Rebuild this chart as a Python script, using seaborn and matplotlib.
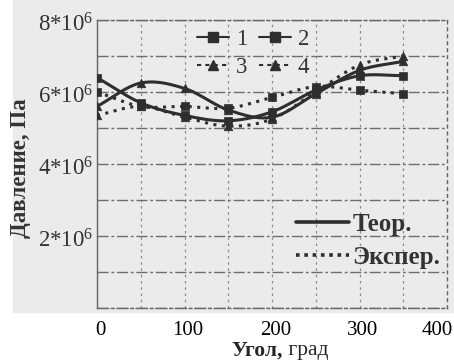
import numpy as np
import pandas as pd
import seaborn as sns
import matplotlib
matplotlib.use("Agg")
import matplotlib.pyplot as plt
from matplotlib.lines import Line2D
from matplotlib.patches import Rectangle

# Angle (deg) and pressure (Pa) for the four cases
angle = [0, 50, 100, 150, 200, 250, 300, 350]
p1 = [6.40e6, 5.70e6, 5.35e6, 5.20e6, 5.45e6, 6.05e6, 6.45e6, 6.45e6]
p2 = [6.00e6, 5.60e6, 5.60e6, 5.55e6, 5.85e6, 6.15e6, 6.05e6, 5.95e6]
p3 = [5.35e6, 5.60e6, 5.30e6, 5.05e6, 5.25e6, 6.00e6, 6.75e6, 7.00e6]
p4 = [5.60e6, 6.25e6, 6.10e6, 5.50e6, 5.30e6, 5.95e6, 6.60e6, 6.85e6]

series_names = ["1", "2", "3", "4"]
y_ticks = [2e6, 4e6, 6e6, 8e6]
y_tick_labels = ["2*10$^6$", "4*10$^6$", "6*10$^6$", "8*10$^6$"]
x_ticks = [0, 100, 200, 300, 400]

sns.set_theme(style="white")
plt.rcParams["font.family"] = ["Liberation Serif", "DejaVu Serif"]
plt.rcParams["mathtext.fontset"] = "custom"
plt.rcParams["mathtext.rm"] = "Liberation Serif"
plt.rcParams["mathtext.it"] = "Liberation Serif:italic"
plt.rcParams["mathtext.bf"] = "Liberation Serif:bold"

bg = "#ebebeb"
ink = "#2e2e2e"

fig = plt.figure(figsize=(4.54, 3.6), dpi=100)
fig.patch.set_facecolor("white")
fig.patches.append(Rectangle((13 / 454, 1 - 312 / 360), 1, 312 / 360,
                             transform=fig.transFigure, color=bg, zorder=-5))
ax = fig.add_axes([97 / 454, 1 - 308 / 360, 350 / 454, 288 / 360])
ax.set_zorder(1)
ax.set_facecolor(bg)


def smooth(x, y, n=20):
    """Catmull-Rom curve through the given points."""
    x = np.asarray(x, float)
    y = np.asarray(y, float)
    px = np.concatenate([[2 * x[0] - x[1]], x, [2 * x[-1] - x[-2]]])
    py = np.concatenate([[2 * y[0] - y[1]], y, [2 * y[-1] - y[-2]]])
    xs, ys = [], []
    for i in range(1, len(px) - 2):
        t = np.linspace(0, 1, n, endpoint=False)
        for arr, out in ((px, xs), (py, ys)):
            p0, a, b, p3_ = arr[i - 1], arr[i], arr[i + 1], arr[i + 2]
            out.extend(0.5 * (2 * a + (-p0 + b) * t
                              + (2 * p0 - 5 * a + 4 * b - p3_) * t ** 2
                              + (-p0 + 3 * a - 3 * b + p3_) * t ** 3))
    xs.append(x[-1])
    ys.append(y[-1])
    return np.array(xs), np.array(ys)


styles = {
    "1": dict(ls="-", marker="s", data=p1),
    "2": dict(ls=(0, (1, 1.8)), marker="s", data=p2),
    "3": dict(ls=(0, (1, 1.8)), marker="^", data=p3),
    "4": dict(ls="-", marker="^", data=p4),
}

for name in series_names:
    st = styles[name]
    sx, sy = smooth(angle, st["data"])
    curve = pd.DataFrame({"angle": sx, "p": sy})
    sns.lineplot(data=curve, x="angle", y="p", ax=ax, color=ink,
                 linewidth=2.2, linestyle=st["ls"], sort=False, zorder=3)
    pts = pd.DataFrame({"angle": angle, "p": st["data"]})
    sns.scatterplot(data=pts, x="angle", y="p", ax=ax, color=ink,
                    marker=st["marker"], s=38, edgecolor=ink, zorder=4,
                    legend=False)

ax.set_xlim(0, 400)
ax.set_ylim(0, 8e6)
ax.set_xticks(np.arange(0, 401, 50))
ax.set_yticks(np.arange(0, 8e6 + 1, 1e6))
ax.xaxis.grid(True, color="#8a8a8a", linestyle=(0, (2, 3)), linewidth=0.9)
ax.yaxis.grid(True, color="#6e6e6e", linestyle=(0, (8, 2, 2, 2)), linewidth=1.0)
ax.set_axisbelow(True)
ax.tick_params(length=0, labelbottom=False, labelleft=False)
for side, sp in ax.spines.items():
    sp.set_color("#666666")
    sp.set_linewidth(1.0)
ax.spines["top"].set_linestyle((0, (8, 2, 2, 2)))
ax.spines["right"].set_linestyle((0, (2, 3)))
ax.spines["bottom"].set_linestyle((0, (8, 2, 2, 2)))
ax.set_xlabel("")
ax.set_ylabel("")

# Tick labels placed as text in data coordinates
for v, lab in zip(y_ticks, y_tick_labels):
    ax.text(-4, v - 0.15e6, lab, ha="right", va="center", fontsize=16.5,
            color="#333333", clip_on=False)
for v in x_ticks:
    shift = 4 if v < 400 else -11
    ax.text(v + shift, -0.35e6, str(v), ha="center", va="top", fontsize=15,
            color="black", clip_on=False)

fig.text(283 / 454, 1 - 351 / 360, "Угол,", ha="right", va="center",
         fontsize=15.5, fontweight="bold")
fig.text(283 / 454, 1 - 351 / 360, " град", ha="left", va="center",
         fontsize=15.5)
fig.text(21 / 454, 1 - 168 / 360, "Давление, Па", rotation=90, ha="center",
         va="center", fontsize=16.5, fontweight="bold", color="#333333")

# Marker legend
h1 = [Line2D([], [], color=ink, lw=1.5, ls="-", marker="s", ms=7),
      Line2D([], [], color=ink, lw=1.5, ls=(0, (2, 2)), marker="^", ms=7),
      Line2D([], [], color=ink, lw=1.5, ls="-", marker="s", ms=7),
      Line2D([], [], color=ink, lw=1.5, ls=(0, (2, 2)), marker="^", ms=7)]
leg1 = ax.legend(h1, ["1", "3", "2", "4"], ncol=2, frameon=False,
                 fontsize=16.5, loc="upper left",
                 bbox_to_anchor=(197 / 454, 1 - 29 / 360),
                 bbox_transform=fig.transFigure, handlelength=1.4,
                 handletextpad=0.3, columnspacing=0.5, labelspacing=0.3,
                 borderpad=0, borderaxespad=0)
for t in leg1.get_texts():
    t.set_color("#333333")
ax.add_artist(leg1)

# Line style legend
h2 = [Line2D([], [], color=ink, lw=2.6, ls="-"),
      Line2D([], [], color=ink, lw=2.6, ls=(0, (1, 1.3)))]
leg2 = ax.legend(h2, ["Теор.", "Экспер."], frameon=False,
                 prop={"size": 18, "weight": "bold"},
                 loc="upper left", bbox_to_anchor=(296 / 454, 1 - 213 / 360),
                 bbox_transform=fig.transFigure, handlelength=2.1,
                 handletextpad=0.15, labelspacing=0.4, borderpad=0,
                 borderaxespad=0)
for t in leg2.get_texts():
    t.set_color("#333333")

fig.savefig("out.png", dpi=100)
